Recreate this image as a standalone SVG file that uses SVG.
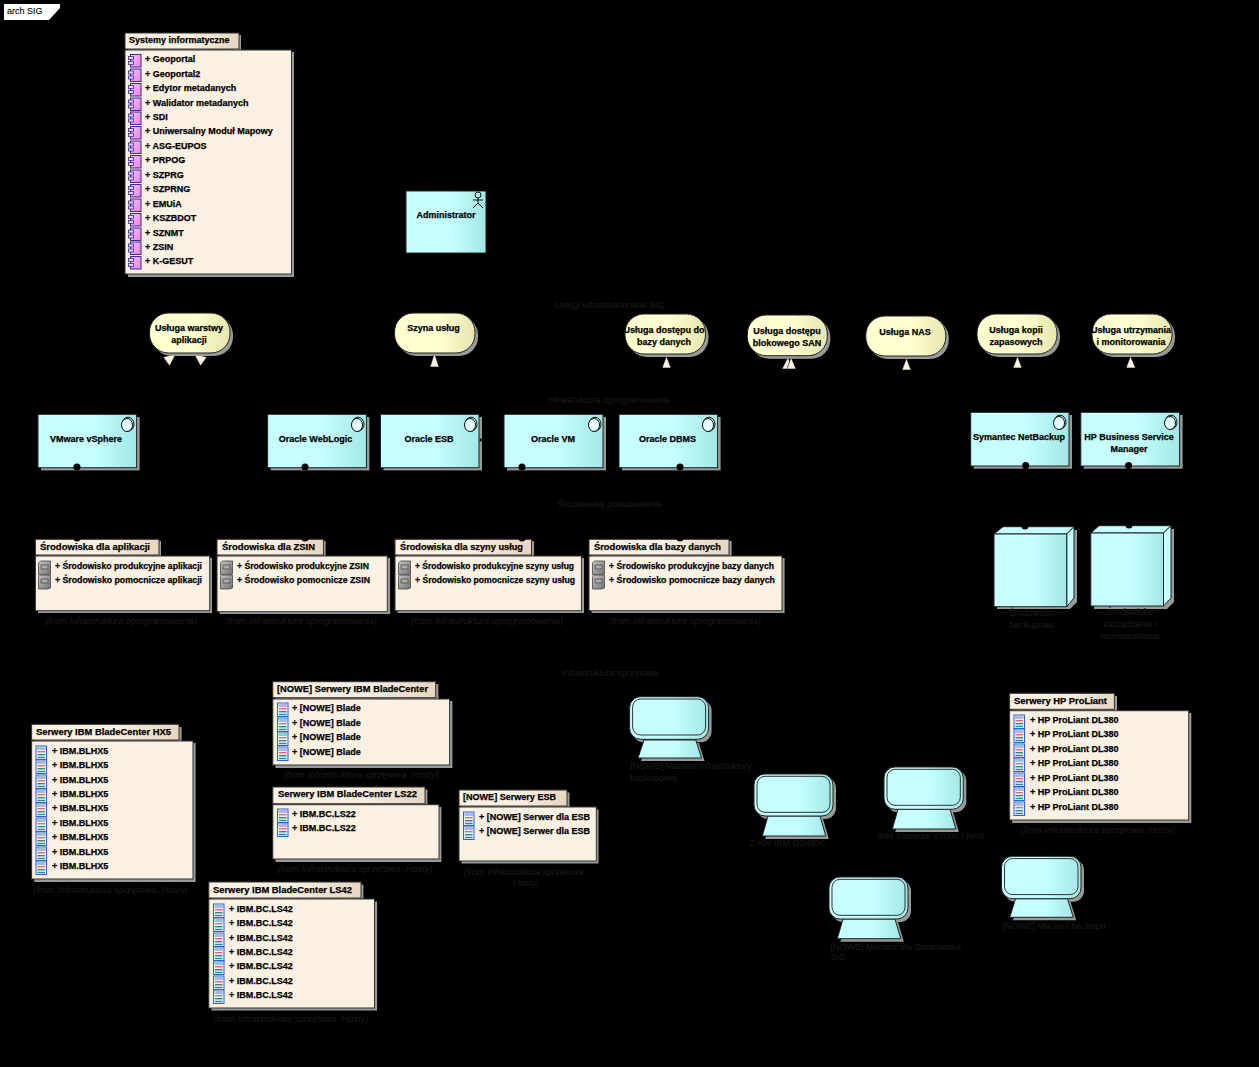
<svg xmlns="http://www.w3.org/2000/svg" width="1259" height="1067" viewBox="0 0 1259 1067">
<style>
text{font-family:"Liberation Sans",Arial,sans-serif;font-size:9px;font-weight:bold;fill:#000;stroke:#000;stroke-width:.25}
.c{text-anchor:middle}
.dim{fill:#181818;font-size:9px;font-weight:normal;stroke:#181818;stroke-width:.2}
.it{font-style:italic}
.sh{fill:#999}
.cy{fill:url(#gc);stroke:#222;stroke-width:1}
.ye{fill:url(#gy);stroke:#222;stroke-width:1}
.bd{fill:#fbf1e3;stroke:#333;stroke-width:1}
.tb{fill:url(#gt);stroke:#333;stroke-width:1}
.conn{stroke:#000;stroke-width:1;fill:none}
.tri{fill:#fbf1e3;stroke:#000;stroke-width:.6}
.dot{fill:#000}
</style>
<defs>
<linearGradient id="gc" x1="0" x2="1" y1="0" y2="0"><stop offset="0" stop-color="#c6ffff"/><stop offset=".55" stop-color="#c6ffff"/><stop offset="1" stop-color="#a2e8e6"/></linearGradient>
<linearGradient id="gy" x1="0" x2="1" y1="0" y2="0"><stop offset="0" stop-color="#ffffd2"/><stop offset=".55" stop-color="#ffffd2"/><stop offset="1" stop-color="#e6e6ae"/></linearGradient>
<linearGradient id="gt" x1="0" x2="1" y1="0" y2="0"><stop offset="0" stop-color="#fbf1e3"/><stop offset=".55" stop-color="#f9efe1"/><stop offset="1" stop-color="#e6d6c0"/></linearGradient>
<linearGradient id="gp" x1="0" x2="1" y1="0" y2="1"><stop offset="0" stop-color="#f5c0f0"/><stop offset="1" stop-color="#ee7fe6"/></linearGradient>
<linearGradient id="ge" x1="0" x2="1" y1="0" y2="1"><stop offset="0" stop-color="#c8c8c8"/><stop offset="1" stop-color="#6e6e6e"/></linearGradient>
<g id="ic">
<rect x="2" y="0" width="10.500" height="12.500" fill="url(#gp)" stroke="#3a2aa0" stroke-width="1"/>
<rect x="0" y="2" width="5" height="3" fill="#e0d0ff" stroke="#3a2aa0" stroke-width=".8"/>
<rect x="0" y="7" width="5" height="3" fill="#e0d0ff" stroke="#3a2aa0" stroke-width=".8"/>
</g>
<g id="ie">
<path d="M2 0H12V13L9 14H0V2Z" fill="url(#ge)" stroke="#444" stroke-width=".8"/>
<rect x="2.500" y="4" width="7" height="4" fill="#aaa" stroke="#444" stroke-width=".7"/>
</g>
<g id="is">
<rect x="0" y="0" width="10.500" height="13.500" fill="#eaf2fb" stroke="#2a62d8" stroke-width="1"/>
<rect x="1" y="1" width="8.500" height="3" fill="#a9b9e6"/>
<rect x="1.500" y="5" width="7.500" height="1.400" fill="#e66"/>
<rect x="1.500" y="8" width="7.500" height="1.400" fill="#2a8a9a"/>
<rect x="1.500" y="10.800" width="7.500" height="1.400" fill="#2a8a9a"/>
</g>
<g id="ci"><ellipse cx="1" cy="-.8" rx="6" ry="7" fill="none" stroke="#111"/><ellipse cx="0" cy="0" rx="5.500" ry="6.500" fill="#e8ffff" stroke="#111"/></g>
</defs>
<rect width="1259" height="1067" fill="#000"/>

<g id="connectors" class="conn">
<path d="M211 272V300L188 313M170 365L86 414M200 365L317 414M434 367L429 414M666 368L667 414M666 368L553 414M787 369L668 414M791 369L553 414M906 370L668 414M1017 368L1019 412M1130 368L1129 412"/>
<path d="M480 440H504M77 467V539M305 467V539M522 467V539M680 467V539M1025 466V526M1129 466V526"/>
<path d="M113 609V616M139 609V616M151 609V616M183 609V616M330 610V616M519 609V616M669 609V616M1003 604V612M1130 604V612"/>
<polygon class="tri" points="163,357 176,354 169.500,366"/>
<polygon class="tri" points="194,354 207,357 200.500,366"/>
<polygon class="tri" points="430,367 439,367 434.500,353"/>
<polygon class="tri" points="662,368 671,368 666.500,356"/>
<polygon class="tri" points="782,369 792,369 788,357"/>
<polygon class="tri" points="787,369 796,369 791,357"/>
<polygon class="tri" points="902,370 911,370 906.500,358"/>
<polygon class="tri" points="1013,368 1022,368 1017.500,356"/>
<polygon class="tri" points="1126,368 1135.500,368 1130.500,356"/>
</g>

<g id="tag"><polygon points="4,4 60,4 60,8 49,20 4,20" fill="#fff"/><text x="7" y="14" style="font-weight:normal;stroke-width:.1">arch SIG</text></g>

<g id="systemy">
<rect x="128" y="35" width="113" height="17" class="sh"/><rect x="128" y="52" width="166" height="225" class="sh"/>
<rect x="125" y="33" width="114" height="16" class="tb"/><rect x="125" y="50" width="166.500" height="224" class="bd"/>
<text x="129" y="43">Systemy informatyczne</text>
<use href="#ic" x="128.500" y="54.500"/><text x="145" y="62">+ Geoportal</text>
<use href="#ic" x="128.500" y="69"/><text x="145" y="77">+ Geoportal2</text>
<use href="#ic" x="128.500" y="83.500"/><text x="145" y="91">+ Edytor metadanych</text>
<use href="#ic" x="128.500" y="98"/><text x="145" y="106">+ Walidator metadanych</text>
<use href="#ic" x="128.500" y="112"/><text x="145" y="120">+ SDI</text>
<use href="#ic" x="128.500" y="126.500"/><text x="145" y="134">+ Uniwersalny Moduł Mapowy</text>
<use href="#ic" x="128.500" y="141"/><text x="145" y="149">+ ASG-EUPOS</text>
<use href="#ic" x="128.500" y="155.500"/><text x="145" y="163">+ PRPOG</text>
<use href="#ic" x="128.500" y="170"/><text x="145" y="178">+ SZPRG</text>
<use href="#ic" x="128.500" y="184.500"/><text x="145" y="192">+ SZPRNG</text>
<use href="#ic" x="128.500" y="199"/><text x="145" y="207">+ EMUiA</text>
<use href="#ic" x="128.500" y="213.500"/><text x="145" y="221">+ KSZBDOT</text>
<use href="#ic" x="128.500" y="228"/><text x="145" y="236">+ SZNMT</text>
<use href="#ic" x="128.500" y="242"/><text x="145" y="250">+ ZSIN</text>
<use href="#ic" x="128.500" y="256.500"/><text x="145" y="264">+ K-GESUT</text>
</g>

<g id="administrator"><rect x="406" y="191" width="80" height="62" class="cy"/>
<g fill="none" stroke="#111"><circle cx="478" cy="195" r="3"/><path d="M478 198V203M473 200H483M478 203L473 208M478 203L483 208"/></g>
<text x="446" y="218" class="c">Administrator</text></g>

<text id="l-uslugi" x="610" y="308" class="c dim">Usługi infrastrukturalne SIG</text>
<text id="l-opr" x="609" y="403" class="c dim">Infrastruktura oprogramowania</text>
<text id="l-sro" x="610" y="507" class="c dim">Środowiska posadowienia</text>
<text id="l-spr" x="610" y="676" class="c dim">Infrastruktura sprzętowa</text>

<g id="s-warstwa"><rect x="152.500" y="316" width="80.500" height="40" rx="19" class="sh"/><rect x="149.500" y="313" width="80.500" height="40" rx="19" class="ye"/><text x="189" y="331" class="c">Usługa warstwy</text><text x="189" y="343" class="c">aplikacji</text></g>
<g id="s-szyna"><rect x="397.500" y="316" width="80.500" height="40" rx="19" class="sh"/><rect x="394.500" y="313" width="80.500" height="40" rx="19" class="ye"/><text x="433.500" y="331" class="c">Szyna usług</text></g>
<g id="s-bazy"><rect x="628" y="317" width="80.500" height="40" rx="19" class="sh"/><rect x="625" y="314" width="80.500" height="40" rx="19" class="ye"/><text x="664" y="333" class="c">Usługa dostępu do</text><text x="664" y="345" class="c">bazy danych</text></g>
<g id="s-san"><rect x="750.300" y="318" width="80" height="40.700" rx="19" class="sh"/><rect x="747.300" y="315" width="80" height="40.700" rx="19" class="ye"/><text x="787" y="334" class="c">Usługa dostępu</text><text x="787" y="346" class="c">blokowego SAN</text></g>
<g id="s-nas"><rect x="868.800" y="319" width="80" height="40" rx="19" class="sh"/><rect x="865.800" y="316" width="80" height="40" rx="19" class="ye"/><text x="905" y="335" class="c">Usługa NAS</text></g>
<g id="s-kopii"><rect x="980" y="317" width="80" height="40" rx="19" class="sh"/><rect x="977" y="314" width="80" height="40" rx="19" class="ye"/><text x="1016" y="333" class="c">Usługa kopii</text><text x="1016" y="345" class="c">zapasowych</text></g>
<g id="s-monit"><rect x="1095" y="317" width="80" height="40" rx="19" class="sh"/><rect x="1092" y="314" width="80" height="40" rx="19" class="ye"/><text x="1131" y="333" class="c">Usługa utrzymania</text><text x="1131" y="345" class="c">i monitorowania</text></g>

<g id="n-vsphere"><rect x="41" y="417" width="98.600" height="53.400" class="sh"/><rect x="38" y="414.300" width="98.600" height="53.400" class="cy"/><use href="#ci" x="127" y="425"/><text x="86" y="441.500" class="c">VMware vSphere</text><circle cx="77" cy="467" r="3.500" class="dot"/></g>
<g id="n-weblogic"><rect x="270.600" y="417" width="98.800" height="53.400" class="sh"/><rect x="267.600" y="414.300" width="98.800" height="53.400" class="cy"/><use href="#ci" x="357" y="425"/><text x="315.500" y="441.500" class="c">Oracle WebLogic</text><circle cx="305" cy="467" r="3.500" class="dot"/></g>
<g id="n-esb"><rect x="383.500" y="417" width="98.500" height="53.400" class="sh"/><rect x="380.500" y="414.300" width="98.500" height="53.400" class="cy"/><use href="#ci" x="470" y="425"/><text x="429" y="441.500" class="c">Oracle ESB</text><circle cx="481" cy="440" r="1.500" class="dot"/></g>
<g id="n-vm"><rect x="507" y="417" width="99" height="53.400" class="sh"/><rect x="504" y="414.300" width="99" height="53.400" class="cy"/><use href="#ci" x="594" y="425"/><text x="553" y="441.500" class="c">Oracle VM</text><circle cx="522" cy="467" r="3.500" class="dot"/></g>
<g id="n-dbms"><rect x="622" y="417" width="98.600" height="53.400" class="sh"/><rect x="619" y="414.300" width="98.600" height="53.400" class="cy"/><use href="#ci" x="708" y="425"/><text x="667.500" y="441.500" class="c">Oracle DBMS</text><circle cx="680" cy="467" r="3.500" class="dot"/></g>
<g id="n-netbackup"><rect x="973.700" y="415" width="98.300" height="53.700" class="sh"/><rect x="970.700" y="412.300" width="98.300" height="53.700" class="cy"/><use href="#ci" x="1059" y="423"/><text x="1019" y="440" class="c">Symantec NetBackup</text><circle cx="1025.700" cy="465.500" r="3.500" class="dot"/></g>
<g id="n-hpbsm"><rect x="1083.800" y="415" width="98.800" height="53.700" class="sh"/><rect x="1080.800" y="412.300" width="98.800" height="53.700" class="cy"/><use href="#ci" x="1170" y="423"/><text x="1129" y="440" class="c">HP Business Service</text><text x="1129" y="452" class="c">Manager</text><circle cx="1128.600" cy="465.500" r="3.500" class="dot"/></g>

<g id="e-aplikacje">
<rect x="38" y="541" width="123" height="16" class="sh"/><rect x="38" y="558" width="174" height="55" class="sh"/>
<rect x="35.400" y="539.300" width="123.600" height="15.700" class="tb"/><rect x="35.400" y="556" width="174.300" height="54.700" class="bd"/>
<circle cx="77" cy="538" r="3.500" class="dot"/>
<text x="40" y="550" textLength="110" lengthAdjust="spacingAndGlyphs">Środowiska dla aplikacji</text>
<use href="#ie" x="38.500" y="561"/><text x="55" y="569" textLength="147" lengthAdjust="spacingAndGlyphs">+ Środowisko produkcyjne aplikacji</text>
<use href="#ie" x="38.500" y="575"/><text x="55" y="583" textLength="147" lengthAdjust="spacingAndGlyphs">+ Środowisko pomocnicze aplikacji</text>
<text x="121.500" y="624" class="c dim it" textLength="152" lengthAdjust="spacingAndGlyphs">(from Infrastruktura oprogramowania)</text></g>
<g id="e-zsin">
<rect x="219.600" y="541" width="106" height="16" class="sh"/><rect x="219.600" y="558" width="170.500" height="56" class="sh"/>
<rect x="217" y="539.300" width="106.400" height="15.700" class="tb"/><rect x="217" y="556" width="170.300" height="55.700" class="bd"/>
<circle cx="305" cy="538" r="3.500" class="dot"/>
<text x="222" y="550" textLength="93" lengthAdjust="spacingAndGlyphs">Środowiska dla ZSIN</text>
<use href="#ie" x="220.500" y="561"/><text x="237" y="569" textLength="132" lengthAdjust="spacingAndGlyphs">+ Środowisko produkcyjne ZSIN</text>
<use href="#ie" x="220.500" y="575"/><text x="237" y="583" textLength="133" lengthAdjust="spacingAndGlyphs">+ Środowisko pomocnicze ZSIN</text>
<text x="301" y="624" class="c dim it" textLength="152" lengthAdjust="spacingAndGlyphs">(from Infrastruktura oprogramowania)</text></g>
<g id="e-szyna">
<rect x="397.600" y="541" width="136.500" height="16" class="sh"/><rect x="397.600" y="558" width="186.400" height="55" class="sh"/>
<rect x="395" y="539.300" width="136.500" height="15.700" class="tb"/><rect x="395" y="556" width="186.400" height="54.700" class="bd"/>
<circle cx="522" cy="538" r="3.500" class="dot"/>
<text x="400" y="550" textLength="123" lengthAdjust="spacingAndGlyphs">Środowiska dla szyny usług</text>
<use href="#ie" x="398.500" y="561"/><text x="415" y="569" textLength="159" lengthAdjust="spacingAndGlyphs">+ Środowisko produkcyjne szyny usług</text>
<use href="#ie" x="398.500" y="575"/><text x="415" y="583" textLength="160" lengthAdjust="spacingAndGlyphs">+ Środowisko pomocnicze szyny usług</text>
<text x="487" y="624" class="c dim it" textLength="152" lengthAdjust="spacingAndGlyphs">(from Infrastruktura oprogramowania)</text></g>
<g id="e-bazy">
<rect x="591.600" y="541" width="140" height="16" class="sh"/><rect x="591.600" y="558" width="193" height="55" class="sh"/>
<rect x="589" y="539.300" width="140" height="15.700" class="tb"/><rect x="589" y="556" width="193" height="54.700" class="bd"/>
<circle cx="680" cy="538" r="3.500" class="dot"/>
<text x="594" y="550" textLength="127" lengthAdjust="spacingAndGlyphs">Środowiska dla bazy danych</text>
<use href="#ie" x="592.500" y="561"/><text x="609" y="569" textLength="165" lengthAdjust="spacingAndGlyphs">+ Środowisko produkcyjne bazy danych</text>
<use href="#ie" x="592.500" y="575"/><text x="609" y="583" textLength="166" lengthAdjust="spacingAndGlyphs">+ Środowisko pomocnicze bazy danych</text>
<text x="685" y="624" class="c dim it" textLength="152" lengthAdjust="spacingAndGlyphs">(from Infrastruktura oprogramowania)</text></g>

<g id="node-backup">
<polygon points="997,609 1070,609 1077,602 1077,530 1004,530" class="sh"/>
<polygon points="994,534 1003,526.700 1074,526.700 1066.700,534" fill="#c6ffff" stroke="#222"/>
<polygon points="1066.700,534 1074,526.700 1074,598 1066.700,606.700" fill="#c6ffff" stroke="#222"/>
<rect x="994" y="534" width="72.700" height="72.700" class="cy"/>
<circle cx="1025" cy="526" r="3.500" class="dot"/>
<text x="1032" y="616" class="c dim">Środowisko</text><text x="1032" y="628" class="c dim">backupowe</text></g>
<g id="node-monit">
<polygon points="1094,609 1167,609 1174,602 1174,529 1101,529" class="sh"/>
<polygon points="1090.800,533 1099,525.700 1171,525.700 1163.500,533" fill="#c6ffff" stroke="#222"/>
<polygon points="1163.500,533 1171,525.700 1171,598 1163.500,606" fill="#c6ffff" stroke="#222"/>
<rect x="1090.800" y="533" width="72.700" height="73" class="cy"/>
<circle cx="1129" cy="525" r="3.500" class="dot"/>
<text x="1130" y="615" class="c dim">Środowisko</text><text x="1130" y="627" class="c dim">zarządzania i</text><text x="1130" y="639" class="c dim">monitorowania</text></g>

<g id="p-nowe-blade">
<rect x="275.400" y="684" width="163" height="16" class="sh"/><rect x="275.400" y="701" width="177" height="67" class="sh"/>
<rect x="272.800" y="681.700" width="162.900" height="16" class="tb"/><rect x="272.800" y="699" width="176.800" height="66" class="bd"/>
<text x="277" y="691.500" textLength="151" lengthAdjust="spacingAndGlyphs">[NOWE] Serwery IBM BladeCenter</text>
<use href="#is" x="277.500" y="703"/><text x="292" y="711">+ [NOWE] Blade</text>
<use href="#is" x="277.500" y="718"/><text x="292" y="726">+ [NOWE] Blade</text>
<use href="#is" x="277.500" y="732"/><text x="292" y="740">+ [NOWE] Blade</text>
<use href="#is" x="277.500" y="747"/><text x="292" y="755">+ [NOWE] Blade</text>
<text x="361" y="778" class="c dim it" textLength="155" lengthAdjust="spacingAndGlyphs">(from Infrastruktura sprzętowa :Hosty)</text></g>
<g id="p-hx5">
<rect x="34.200" y="727" width="147.400" height="16" class="sh"/><rect x="34.200" y="743" width="161.400" height="139" class="sh"/>
<rect x="31.600" y="724.300" width="147.400" height="15.700" class="tb"/><rect x="31.600" y="741" width="161.400" height="138" class="bd"/>
<text x="36" y="735" textLength="135" lengthAdjust="spacingAndGlyphs">Serwery IBM BladeCenter HX5</text>
<use href="#is" x="36" y="746"/><text x="52" y="754">+ IBM.BLHX5</text>
<use href="#is" x="36" y="760"/><text x="52" y="768">+ IBM.BLHX5</text>
<use href="#is" x="36" y="775"/><text x="52" y="783">+ IBM.BLHX5</text>
<use href="#is" x="36" y="789"/><text x="52" y="797">+ IBM.BLHX5</text>
<use href="#is" x="36" y="803"/><text x="52" y="811">+ IBM.BLHX5</text>
<use href="#is" x="36" y="818"/><text x="52" y="826">+ IBM.BLHX5</text>
<use href="#is" x="36" y="832"/><text x="52" y="840">+ IBM.BLHX5</text>
<use href="#is" x="36" y="847"/><text x="52" y="855">+ IBM.BLHX5</text>
<use href="#is" x="36" y="861"/><text x="52" y="869">+ IBM.BLHX5</text>
<text x="110.700" y="893" class="c dim it" textLength="155" lengthAdjust="spacingAndGlyphs">(from Infrastruktura sprzętowa :Hosty)</text></g>
<g id="p-ls22">
<rect x="275.400" y="789.500" width="152" height="16.500" class="sh"/><rect x="275.400" y="807" width="166" height="55" class="sh"/>
<rect x="272.800" y="787" width="152.200" height="16.700" class="tb"/><rect x="272.800" y="804.700" width="166.200" height="54.300" class="bd"/>
<text x="278" y="797" textLength="139" lengthAdjust="spacingAndGlyphs">Serwery IBM BladeCenter LS22</text>
<use href="#is" x="277.500" y="809"/><text x="292" y="817">+ IBM.BC.LS22</text>
<use href="#is" x="277.500" y="823"/><text x="292" y="831">+ IBM.BC.LS22</text>
<text x="355" y="872" class="c dim it" textLength="155" lengthAdjust="spacingAndGlyphs">(from Infrastruktura sprzętowa :Hosty)</text></g>
<g id="p-esb">
<rect x="461.500" y="792.500" width="108" height="16" class="sh"/><rect x="461.500" y="809.500" width="137" height="54" class="sh"/>
<rect x="459" y="790" width="108" height="16" class="tb"/><rect x="459" y="807" width="137.300" height="54" class="bd"/>
<text x="463" y="800" textLength="93" lengthAdjust="spacingAndGlyphs">[NOWE] Serwery ESB</text>
<use href="#is" x="463.500" y="812"/><text x="479" y="820" textLength="111" lengthAdjust="spacingAndGlyphs">+ [NOWE] Serwer dla ESB</text>
<use href="#is" x="463.500" y="826"/><text x="479" y="834" textLength="111" lengthAdjust="spacingAndGlyphs">+ [NOWE] Serwer dla ESB</text>
<text x="526" y="875" class="c dim it">(from Infrastruktura sprzętowa :</text><text x="526" y="886" class="c dim it">Hosty)</text></g>
<g id="p-ls42">
<rect x="211.400" y="884.500" width="152" height="16" class="sh"/><rect x="211.400" y="901.500" width="165.700" height="109" class="sh"/>
<rect x="208.800" y="882" width="152.200" height="16" class="tb"/><rect x="208.800" y="899" width="165.700" height="109" class="bd"/>
<text x="213" y="892.500" textLength="139" lengthAdjust="spacingAndGlyphs">Serwery IBM BladeCenter LS42</text>
<use href="#is" x="213.500" y="904"/><text x="229" y="912">+ IBM.BC.LS42</text>
<use href="#is" x="213.500" y="918"/><text x="229" y="926">+ IBM.BC.LS42</text>
<use href="#is" x="213.500" y="933"/><text x="229" y="941">+ IBM.BC.LS42</text>
<use href="#is" x="213.500" y="947"/><text x="229" y="955">+ IBM.BC.LS42</text>
<use href="#is" x="213.500" y="961"/><text x="229" y="969">+ IBM.BC.LS42</text>
<use href="#is" x="213.500" y="976"/><text x="229" y="984">+ IBM.BC.LS42</text>
<use href="#is" x="213.500" y="990"/><text x="229" y="998">+ IBM.BC.LS42</text>
<text x="291" y="1022" class="c dim it" textLength="155" lengthAdjust="spacingAndGlyphs">(from Infrastruktura sprzętowa :Hosty)</text></g>
<g id="p-proliant">
<rect x="1012.200" y="696" width="104.800" height="16" class="sh"/><rect x="1012.200" y="713" width="179.100" height="110" class="sh"/>
<rect x="1009.600" y="693.300" width="104.800" height="16" class="tb"/><rect x="1009.600" y="710.700" width="179.100" height="109.300" class="bd"/>
<text x="1014" y="703.500" textLength="93" lengthAdjust="spacingAndGlyphs">Serwery HP ProLiant</text>
<use href="#is" x="1014" y="715"/><text x="1030" y="723">+ HP ProLiant DL380</text>
<use href="#is" x="1014" y="729"/><text x="1030" y="737">+ HP ProLiant DL380</text>
<use href="#is" x="1014" y="744"/><text x="1030" y="752">+ HP ProLiant DL380</text>
<use href="#is" x="1014" y="758"/><text x="1030" y="766">+ HP ProLiant DL380</text>
<use href="#is" x="1014" y="773"/><text x="1030" y="781">+ HP ProLiant DL380</text>
<use href="#is" x="1014" y="787"/><text x="1030" y="795">+ HP ProLiant DL380</text>
<use href="#is" x="1014" y="802"/><text x="1030" y="810">+ HP ProLiant DL380</text>
<text x="1098" y="833" class="c dim it" textLength="155" lengthAdjust="spacingAndGlyphs">(from Infrastruktura sprzętowa :Hosty)</text></g>

<g id="d-backup-infra"><rect x="632.600" y="699.700" width="79" height="42.600" rx="11" class="sh"/><polygon points="641,761 704.500,761 698.800,743 647,743" class="sh"/><polygon points="638,758 701.500,758 695.800,740 644,740" class="cy"/><rect x="629.600" y="696.700" width="79" height="42.600" rx="11" class="cy"/><rect x="632.600" y="699" width="73" height="36" rx="8" fill="none" stroke="#333"/><text x="630" y="769" class="dim">[NOWE] Macierz infrastruktury</text><text x="630" y="781" class="dim">backupowej</text></g>
<g id="d-zxiv"><rect x="757" y="777" width="79" height="42" rx="11" class="sh"/><polygon points="765.300,839 828.800,839 823,819 771,819" class="sh"/><polygon points="762.300,836 825.800,836 820,816 768,816" class="cy"/><rect x="754" y="774" width="79" height="42" rx="11" class="cy"/><rect x="757" y="776.300" width="73" height="36" rx="8" fill="none" stroke="#333"/><text x="787" y="846" class="c dim">Z.XIV IBM DS4800</text></g>
<g id="d-storwize"><rect x="887" y="770" width="79.300" height="42.300" rx="11" class="sh"/><polygon points="895.300,832 958.800,832 953,812 901,812" class="sh"/><polygon points="892.300,829 955.800,829 950,809 898,809" class="cy"/><rect x="884" y="767" width="79.300" height="42.300" rx="11" class="cy"/><rect x="887" y="769.300" width="73.300" height="36" rx="8" fill="none" stroke="#333"/><text x="931" y="839" class="c dim">IBM Storwize V7000 / NAS</text></g>
<g id="d-sync"><rect x="832" y="880" width="79" height="42" rx="11" class="sh"/><polygon points="840.300,941.700 903.800,941.700 898,922 846,922" class="sh"/><polygon points="837.300,938.700 900.800,938.700 895,919 843,919" class="cy"/><rect x="829" y="877" width="79" height="42" rx="11" class="cy"/><rect x="832" y="879.300" width="73" height="36" rx="8" fill="none" stroke="#333"/><text x="830.500" y="950" class="dim">[NOWE] Macierz dla Środowiska</text><text x="830.500" y="960" class="dim">SIG</text></g>
<g id="d-lib"><rect x="1004.500" y="859.300" width="79.500" height="42.400" rx="11" class="sh"/><polygon points="1012.800,920.300 1076.300,920.300 1070.500,901.700 1018.500,901.700" class="sh"/><polygon points="1009.800,917.300 1073.300,917.300 1067.500,898.700 1015.500,898.700" class="cy"/><rect x="1001.500" y="856.300" width="79.500" height="42.400" rx="11" class="cy"/><rect x="1004.500" y="858.600" width="73.500" height="36" rx="8" fill="none" stroke="#333"/><text x="1002" y="929" class="dim">[NOWE] Macierz backupu</text></g>
</svg>
